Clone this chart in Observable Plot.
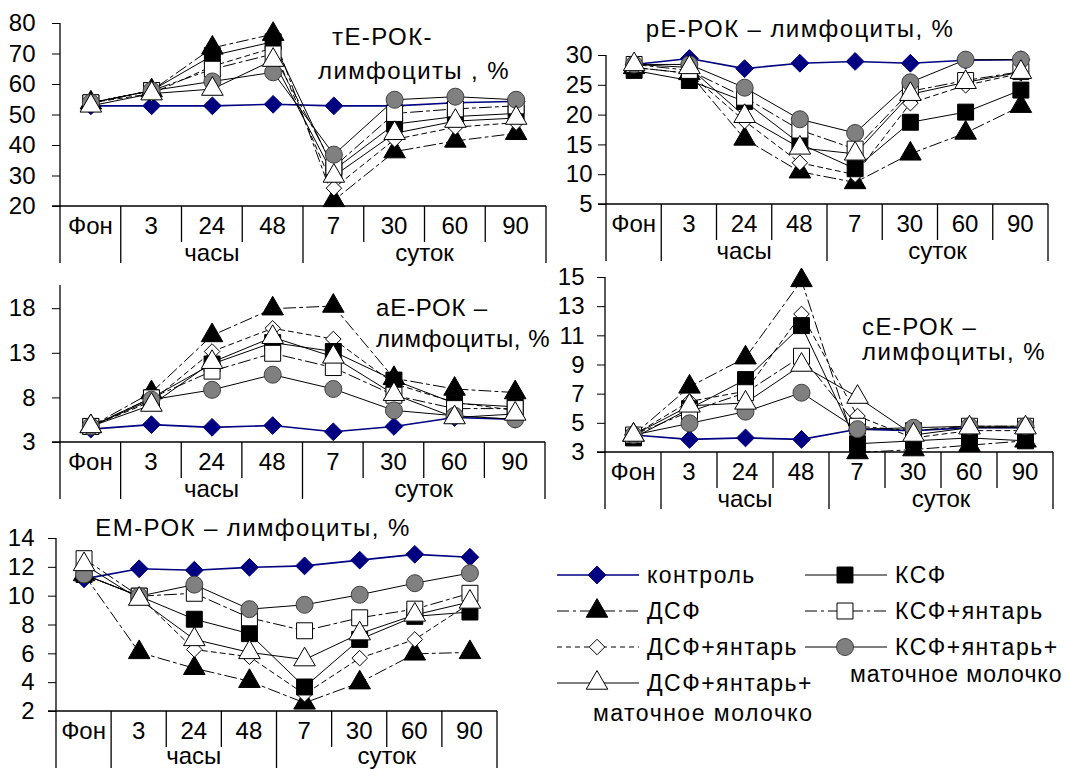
<!DOCTYPE html>
<html><head><meta charset="utf-8">
<script src="https://cdn.jsdelivr.net/npm/d3@7"></script>
<script src="https://cdn.jsdelivr.net/npm/@observablehq/plot@0.6"></script>
<style>
body{margin:0;background:#fff;}
#wrap{position:relative;width:1070px;height:769px;overflow:hidden;font-family:"Liberation Sans",Arial,sans-serif;}
#wrap > svg{position:absolute;}
</style></head><body><div id="wrap"></div>
<script>
// ---------- data ----------
const categories = ["Фон","3","24","48","7","30","60","90"];
const periodLabels = ["часы","суток"];
const seriesNames = ["контроль","ДСФ","ДСФ+янтарь","ДСФ+янтарь+","КСФ","КСФ+янтарь","КСФ+янтарь+"];
const subName = "маточное молочко";

// тЕ-РОК
const tE_control  = [53, 53, 53, 53.5, 53, 53, 54, 54.5];
const tE_DSF      = [54, 58, 72, 76.5, 22, 38, 41.5, 44];
const tE_DSFa     = [54, 57, 66, 72, 26, 42, 46, 47.5];
const tE_DSFam    = [53, 57, 58.5, 68, 30, 44, 48, 49];
const tE_KSF      = [54, 58, 69.5, 74, 32, 47, 49.5, 50.5];
const tE_KSFa     = [54, 58, 65, 70, 33, 50.5, 52, 53];
const tE_KSFam    = [54, 58, 61, 64, 37, 55, 56, 55];
// рЕ-РОК
const pE_control  = [28.5, 29.5, 27.8, 28.7, 29, 28.7, 29.2, 29.3];
const pE_DSF      = [28, 27, 16, 10.5, 8.7, 13.5, 17, 21.5];
const pE_DSFa     = [28, 27, 19, 12, 10, 22, 25, 27];
const pE_DSFam    = [28.5, 28, 19.8, 14.5, 13.5, 23.5, 25.5, 27.2];
const pE_KSF      = [27.5, 25.8, 22.3, 15.2, 11, 18.8, 20.5, 24.2];
const pE_KSFa     = [28.5, 27.5, 23, 17.5, 14.3, 24, 25.8, 27.3];
const pE_KSFam    = [28.5, 28.5, 24.6, 19.3, 17, 25.5, 29.3, 29.3];
// аЕ-РОК
const aE_control  = [4.5, 5.0, 4.7, 4.9, 4.2, 4.8, 5.8, 5.6];
const aE_DSF      = [4.8, 8.6, 15, 18, 18.3, 10.2, 9, 8.6];
const aE_DSFa     = [4.8, 7.6, 13.2, 15.8, 14.6, 9.6, 7.5, 6.6];
const aE_DSFam    = [4.8, 7.2, 12, 14.8, 12.6, 8.4, 5.8, 6.2];
const aE_KSF      = [4.8, 8, 11.8, 14.2, 13.2, 10, 7.4, 7];
const aE_KSFa     = [4.8, 8, 11, 13, 11.4, 8.3, 6.8, 6.8];
const aE_KSFam    = [4.8, 7.8, 8.9, 10.6, 9, 6.6, 6, 5.6];
// сЕ-РОК
const cE_control  = [4.2, 3.9, 4, 3.9, 4.6, 4.5, 4.7, 4.7];
const cE_DSF      = [4.2, 7.5, 9.5, 14.8, 3, 3.2, 3.5, 3.8];
const cE_DSFa     = [4.2, 6.5, 7.2, 12.5, 5.5, 4, 4.5, 4.5];
const cE_DSFam    = [4.2, 6.2, 6.4, 9, 6.8, 4.2, 4.7, 4.7];
const cE_KSF      = [4, 6, 8, 11.7, 3.6, 3.8, 4, 3.8];
const cE_KSFa     = [4.2, 5.8, 7.1, 9.6, 4.8, 4.5, 4.8, 4.8];
const cE_KSFam    = [4.2, 5, 5.8, 7.1, 4.6, 4.7, 4.8, 4.8];
// ЕМ-РОК
const EM_control  = [11.2, 11.9, 11.8, 12, 12.1, 12.5, 12.9, 12.7];
const EM_DSF      = [11.5, 6.1, 5, 4.1, 2.6, 4, 6, 6.1];
const EM_DSFa     = [11.5, 10, 6.3, 5.8, 3.2, 5.7, 7, 9.5];
const EM_DSFam    = [12.2, 9.8, 7, 6.1, 5.6, 7.4, 8.7, 9.6];
const EM_KSF      = [11.5, 10, 8.4, 7.4, 3.7, 7, 8.6, 8.9];
const EM_KSFa     = [12.6, 10, 10.2, 8.5, 7.6, 8.5, 9.1, 10.2];
const EM_KSFam    = [11.5, 10, 10.8, 9.1, 9.4, 10.1, 10.9, 11.6];

// ---------- styles ----------
const FONT = "Liberation Sans, Arial, sans-serif";
const styles = [
  {line:"#000080", width:1.6, dash:null,        symbol:"diamond2", fill:"#000080", stroke:"#000080", r:8},
  {line:"#000",    width:1,   dash:"12,4,3,4",  symbol:"triangle", fill:"#000",    stroke:"#000",    r:8},
  {line:"#000",    width:1,   dash:"5,4",       symbol:"diamond2", fill:"#fff",    stroke:"#000",    r:7},
  {line:"#000",    width:1,   dash:null,        symbol:"triangle", fill:"#fff",    stroke:"#000",    r:8},
  {line:"#000",    width:1,   dash:null,        symbol:"square",   fill:"#000",    stroke:"#000",    r:9},
  {line:"#000",    width:1,   dash:"12,4,3,4",  symbol:"square",   fill:"#fff",    stroke:"#000",    r:9},
  {line:"#000",    width:1,   dash:null,        symbol:"circle",   fill:"#808080", stroke:"#404040", r:8.5}
];
const markerOrder = [0,1,2,4,5,6,3];

const panels = [
  {series:[tE_control,tE_DSF,tE_DSFa,tE_DSFam,tE_KSF,tE_KSFa,tE_KSFam], domain:[20,80], ticks:d3.range(20,81,10),
   left:0, top:0, width:550, height:270, mL:60, mR:4, mT:23, mB:64, pad:17, gOff:55},
  {series:[pE_control,pE_DSF,pE_DSFa,pE_DSFam,pE_KSF,pE_KSFa,pE_KSFam], domain:[5,30], ticks:d3.range(5,31,5),
   left:540, top:0, width:530, height:270, mL:66, mR:22, mT:55, mB:66, pad:6, gOff:55},
  {series:[aE_control,aE_DSF,aE_DSFa,aE_DSFam,aE_KSF,aE_KSFa,aE_KSFam], domain:[3,20.6], ticks:[3,8,13,18],
   left:0, top:270, width:550, height:240, mL:60, mR:5, mT:15, mB:68, pad:17, gOff:55},
  {series:[cE_control,cE_DSF,cE_DSFa,cE_DSFam,cE_KSF,cE_KSFa,cE_KSFam], domain:[3,15], ticks:d3.range(3,16,2),
   left:540, top:265, width:530, height:245, mL:65, mR:17, mT:12, mB:58, pad:13, gOff:55},
  {series:[EM_control,EM_DSF,EM_DSFa,EM_DSFam,EM_KSF,EM_KSFa,EM_KSFam], domain:[2,14], ticks:d3.range(2,15,2),
   left:0, top:505, width:540, height:264, mL:56, mR:43, mT:33, mB:58, pad:14, gOff:53}
];

const wrap = document.getElementById("wrap");
const rows = vals => vals.map((v,i)=>({x:i+0.5, y:v}));

for (const p of panels) {
  const marks = [];
  styles.forEach((s,k)=>{
    const o = {x:"x", y:"y", stroke:s.line, strokeWidth:s.width};
    if (s.dash) o.strokeDasharray = s.dash;
    marks.push(Plot.line(rows(p.series[k]), o));
  });
  markerOrder.forEach(k=>{
    const s = styles[k];
    marks.push(Plot.dot(rows(p.series[k]), {x:"x", y:"y", symbol:s.symbol, r:s.r, fill:s.fill, stroke:s.stroke, strokeWidth:1}));
  });
  const plot = Plot.plot({
    width:p.width, height:p.height,
    marginLeft:p.mL, marginRight:p.mR, marginTop:p.mT, marginBottom:p.mB,
    x:{domain:[0,8], axis:null},
    y:{domain:p.domain, ticks:p.ticks, tickSize:8, tickPadding:p.pad, label:null, tickFormat:d=>String(d)},
    style:{fontFamily:FONT, fontSize:"24px", color:"#000", background:"transparent", overflow:"visible"},
    marks
  });
  plot.style.left = p.left+"px";
  plot.style.top = p.top+"px";
  wrap.appendChild(plot);

  // category table drawn with the plot's own scales
  const sx = plot.scale("x"), sy = plot.scale("y");
  const X = v => sx.apply(v);
  const yb = sy.apply(p.domain[0]), yt = sy.apply(p.domain[1]);
  const svg = d3.select(plot);
  const g = svg.append("g").attr("stroke","#000").attr("stroke-width",1.3).attr("fill","none");
  g.append("line").attr("x1",X(0)).attr("x2",X(0)).attr("y1",yt).attr("y2",yb+57);
  g.append("line").attr("x1",X(0)-8).attr("x2",X(8)).attr("y1",yb).attr("y2",yb);
  for (let k=1;k<=8;k++){
    const len = (k===1||k===4||k===8) ? 57 : 36;
    g.append("line").attr("x1",X(k)).attr("x2",X(k)).attr("y1",yb).attr("y2",yb+len);
  }
  const t = svg.append("g").attr("font-family",FONT).attr("font-size",24).attr("fill","#000").attr("text-anchor","middle");
  categories.forEach((c,i)=>t.append("text").attr("x",X(i+0.5)).attr("y",yb+28).text(c));
  t.append("text").attr("x",X(2.5)).attr("y",yb+p.gOff).text(periodLabels[0]);
  t.append("text").attr("x",X(6)).attr("y",yb+p.gOff).text(periodLabels[1]);
}

// ---------- titles & legend overlay ----------
const ov = d3.select(wrap).append("svg").attr("width",1070).attr("height",769)
  .style("left","0px").style("top","0px").style("position","absolute")
  .attr("font-family",FONT).attr("fill","#000");
const titles = [
  {x:332, y:45, a:"start", t:"тЕ-РОК-", ls:1.4}, {x:318, y:79, a:"start", t:"лимфоциты , %", ls:1.4},
  {x:800, y:37, a:"middle", t:"рЕ-РОК – лимфоциты, %", ls:1.4},
  {x:376, y:316, a:"start", t:"аЕ-РОК –", ls:0.8}, {x:376, y:347, a:"start", t:"лимфоциты, %", ls:0.6},
  {x:862, y:335, a:"start", t:"сЕ-РОК –", ls:1.4}, {x:862, y:360, a:"start", t:"лимфоциты, %", ls:1.4},
  {x:253, y:536, a:"middle", t:"ЕМ-РОК – лимфоциты, %", ls:1.4}
];
titles.forEach(d=>ov.append("text").attr("x",d.x).attr("y",d.y).attr("text-anchor",d.a)
  .attr("font-size",24).attr("letter-spacing",d.ls+"px").text(d.t));

const legendPos = [
  {x:557, y:575}, {x:557, y:611}, {x:557, y:647}, {x:557, y:683},
  {x:805, y:575}, {x:805, y:611}, {x:805, y:647}
];
const sym = {diamond2:d3.symbolDiamond2, triangle:d3.symbolTriangle, square:d3.symbolSquare, circle:d3.symbolCircle};
const lgText = (x,y,s,ls)=>ov.append("text").attr("x",x).attr("y",y).attr("font-size",23).attr("letter-spacing",(ls??1.5)+"px").text(s);
styles.forEach((s,k)=>{
  const pos = legendPos[k];
  const lg = ov.append("g");
  const ln = lg.append("line").attr("x1",pos.x).attr("x2",pos.x+82).attr("y1",pos.y).attr("y2",pos.y)
    .attr("stroke",s.line).attr("stroke-width",s.width);
  if (s.dash) ln.attr("stroke-dasharray",s.dash);
  lg.append("path").attr("d",d3.symbol(sym[s.symbol], s.r*s.r*Math.PI)())
    .attr("transform",`translate(${pos.x+40},${pos.y})`).attr("fill",s.fill).attr("stroke",s.stroke);
  lgText(pos.x+90, pos.y+8, seriesNames[k]);
});
lgText(593, 721, subName);
lgText(850, 682, subName, 1.0);
</script></body></html>
